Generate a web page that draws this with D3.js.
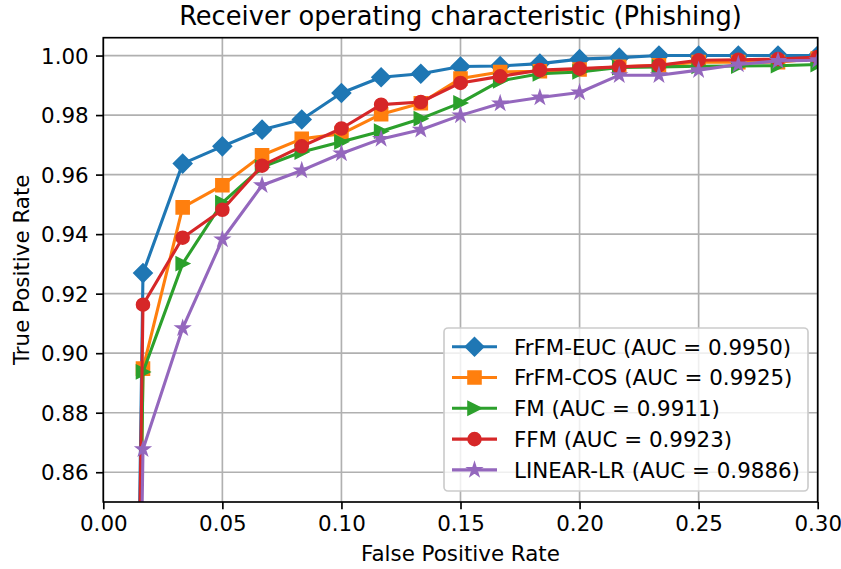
<!DOCTYPE html>
<html>
<head>
<meta charset="utf-8">
<script src="https://cdn.jsdelivr.net/npm/d3@7"></script>
<style>
html,body{margin:0;padding:0;background:#fff;}
svg text{font-family:"DejaVu Sans",sans-serif;fill:#000;}
</style>
</head>
<body>
<svg id="chart" width="841" height="569"></svg>
<script>
// ---- data ----
const fpr = [0, 1/60, 2/60, 3/60, 4/60, 5/60, 6/60, 7/60, 8/60, 9/60, 10/60, 11/60, 12/60, 13/60, 14/60, 15/60, 16/60, 17/60, 18/60];
const tprEUC = [0, 0.9269, 0.9637, 0.9695, 0.9751, 0.9785, 0.9874, 0.9927, 0.9939, 0.9963, 0.9965, 0.9973, 0.9988, 0.9993, 1.0, 1.0, 1.0, 1.0, 1.0];
const tprCOS = [0, 0.8948, 0.9490, 0.9564, 0.9665, 0.9720, 0.9737, 0.9803, 0.9840, 0.9923, 0.9945, 0.9947, 0.9953, 0.9962, 0.9967, 0.9978, 0.9978, 0.9978, 0.9990];
const tprFM  = [0, 0.8937, 0.9301, 0.9506, 0.9625, 0.9676, 0.9710, 0.9746, 0.9788, 0.9841, 0.9915, 0.9939, 0.9945, 0.9960, 0.9962, 0.9964, 0.9965, 0.9966, 0.9970];
const tprFFM = [0, 0.9163, 0.9388, 0.9482, 0.9630, 0.9695, 0.9755, 0.9835, 0.9844, 0.9908, 0.9930, 0.9951, 0.9956, 0.9962, 0.9967, 0.9984, 0.9986, 0.9988, 0.9995];
const tprLR  = [0, 0.8677, 0.9084, 0.9382, 0.9564, 0.9614, 0.9671, 0.9720, 0.9751, 0.9799, 0.9839, 0.9859, 0.9876, 0.9934, 0.9934, 0.9951, 0.9970, 0.9982, 0.9984];
const seriesNames = ["FrFM-EUC (AUC = 0.9950)", "FrFM-COS (AUC = 0.9925)", "FM (AUC = 0.9911)", "FFM (AUC = 0.9923)", "LINEAR-LR (AUC = 0.9886)"];
const xTicks = [0.00, 0.05, 0.10, 0.15, 0.20, 0.25, 0.30];
const yTicks = [0.86, 0.88, 0.90, 0.92, 0.94, 0.96, 0.98, 1.00];
const titleText = "Receiver operating characteristic (Phishing)";
const xLabel = "False Positive Rate";
const yLabel = "True Positive Rate";

// ---- styling ----
const colors = ["#1f77b4", "#ff7f0e", "#2ca02c", "#d62728", "#9467bd"];
const markers = ["diamond", "square", "triRight", "circle", "star"];
const allTpr = [tprEUC, tprCOS, tprFM, tprFFM, tprLR];
const series = seriesNames.map((n, i) => ({name: n, color: colors[i], marker: markers[i],
  values: fpr.map((x, j) => ({x: x, y: allTpr[i][j]}))}));

const svg = d3.select("#chart");
const L = 103.3, R = 817.7, T = 37.7, B = 502;
const x = d3.scaleLinear().domain([0, 0.30]).range([L, R]);
const y = d3.scaleLinear().domain([0.85, 1.006]).range([B, T]);
const fs = 21.4;
const ms = 12.5; // marker size px

// grid
const grid = svg.append("g");
xTicks.forEach(t => grid.append("line").attr("x1", x(t)).attr("x2", x(t)).attr("y1", T).attr("y2", B)
  .attr("stroke", "#b0b0b0").attr("stroke-width", 1.67));
yTicks.forEach(t => grid.append("line").attr("x1", L).attr("x2", R).attr("y1", y(t)).attr("y2", y(t))
  .attr("stroke", "#b0b0b0").attr("stroke-width", 1.67));

// clip
svg.append("defs").append("clipPath").attr("id", "clip")
  .append("rect").attr("x", L).attr("y", T).attr("width", R - L).attr("height", B - T);

function markerPath(type, s) {
  const h = s / 2;
  switch (type) {
    case "diamond": { const d = s / Math.SQRT2; return `M0,${-d}L${d},0L0,${d}L${-d},0Z`; }
    case "square": return `M${-h},${-h}H${h}V${h}H${-h}Z`;
    case "triRight": return `M${h},0L${-h},${-h}L${-h},${h}Z`;
    case "circle": return `M${h},0A${h},${h} 0 1,1 ${-h},0A${h},${h} 0 1,1 ${h},0Z`;
    case "star": {
      const ro = h, ri = h * 0.381966; let p = "";
      for (let k = 0; k < 10; k++) {
        const r = k % 2 === 0 ? ro : ri;
        const a = -Math.PI / 2 + k * Math.PI / 5;
        p += (k === 0 ? "M" : "L") + (r * Math.cos(a)).toFixed(3) + "," + (r * Math.sin(a)).toFixed(3);
      }
      return p + "Z";
    }
  }
}

const plot = svg.append("g").attr("clip-path", "url(#clip)");
const line = d3.line().x(d => x(d.x)).y(d => y(d.y));
series.forEach(s => {
  const g = plot.append("g");
  g.append("path").attr("d", line(s.values)).attr("fill", "none")
    .attr("stroke", s.color).attr("stroke-width", 3.1).attr("stroke-linejoin", "round").attr("stroke-linecap", "square");
  g.selectAll("path.m").data(s.values).enter().append("path").attr("class", "m")
    .attr("d", markerPath(s.marker, ms))
    .attr("transform", d => `translate(${x(d.x)},${y(d.y)})`)
    .attr("fill", s.color).attr("stroke", s.color).attr("stroke-width", 2.08).attr("stroke-linejoin", "miter");
});

// axes
const xAxis = svg.append("g").attr("transform", `translate(0,${B})`)
  .call(d3.axisBottom(x).tickValues(xTicks).tickFormat(d3.format(".2f")).tickSize(7.3).tickPadding(7.3));
const yAxis = svg.append("g").attr("transform", `translate(${L},0)`)
  .call(d3.axisLeft(y).tickValues(yTicks).tickFormat(d3.format(".2f")).tickSize(7.3).tickPadding(7.3));
[xAxis, yAxis].forEach(a => {
  a.select(".domain").remove();
  a.selectAll(".tick line").attr("stroke", "#000").attr("stroke-width", 1.67);
  a.selectAll(".tick text").attr("font-size", fs).attr("font-family", "DejaVu Sans").attr("fill", "#000");
});
xAxis.selectAll(".tick text").attr("dy", null).attr("y", 29);
yAxis.selectAll(".tick text").attr("dy", "0.36em");

// spines
svg.append("rect").attr("x", L).attr("y", T).attr("width", R - L).attr("height", B - T)
  .attr("fill", "none").attr("stroke", "#000").attr("stroke-width", 1.67);

// labels
svg.append("text").attr("x", (L + R) / 2).attr("y", 25).attr("text-anchor", "middle")
  .attr("font-size", 25.7).text(titleText);
svg.append("text").attr("x", (L + R) / 2).attr("y", 560.5).attr("text-anchor", "middle")
  .attr("font-size", fs).text(xLabel);
svg.append("text").attr("transform", `translate(29,${(T + B) / 2}) rotate(-90)`).attr("text-anchor", "middle")
  .attr("font-size", fs).text(yLabel);

// legend
const lg = svg.append("g");
lg.append("rect").attr("x", 444).attr("y", 328).attr("width", 364).attr("height", 163).attr("rx", 4)
  .attr("fill", "#fff").attr("fill-opacity", 0.8).attr("stroke", "#cccccc").attr("stroke-width", 1.67);
series.forEach((s, i) => {
  const cy = 346.7 + i * 30.8;
  lg.append("line").attr("x1", 452).attr("x2", 497).attr("y1", cy).attr("y2", cy)
    .attr("stroke", s.color).attr("stroke-width", 3.1);
  lg.append("path").attr("d", markerPath(s.marker, ms)).attr("transform", `translate(474.5,${cy})`)
    .attr("fill", s.color).attr("stroke", s.color).attr("stroke-width", 2.08);
  lg.append("text").attr("x", 514).attr("y", cy + 7.8).attr("font-size", fs).text(s.name);
});
</script>
</body>
</html>
